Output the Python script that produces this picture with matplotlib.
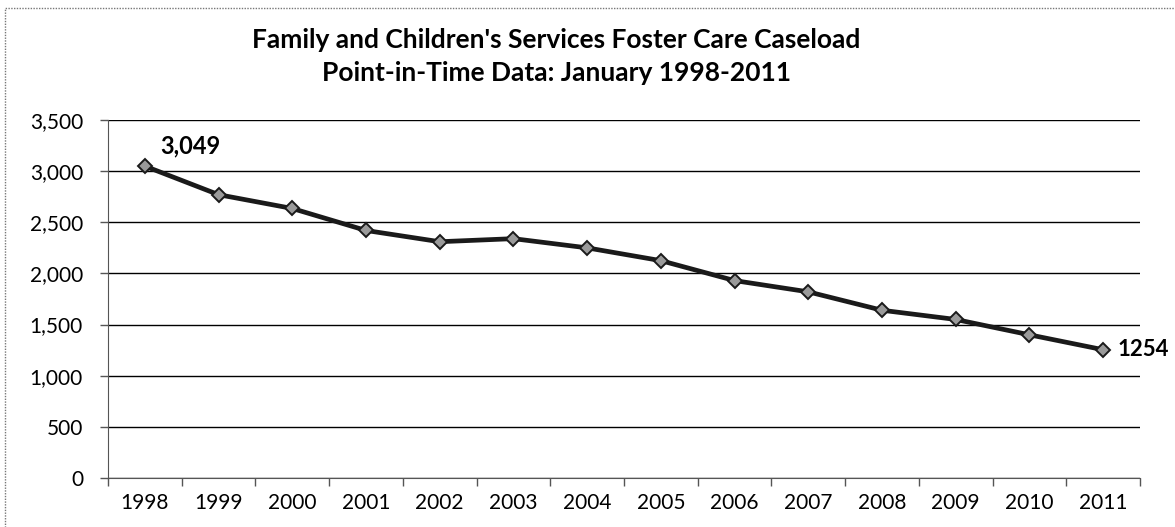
import matplotlib
matplotlib.use("Agg")
import matplotlib.pyplot as plt
from matplotlib.patches import Rectangle
from matplotlib.ticker import FuncFormatter, FixedLocator

years = ["1998", "1999", "2000", "2001", "2002", "2003", "2004",
         "2005", "2006", "2007", "2008", "2009", "2010", "2011"]
caseload = [3049, 2770, 2635, 2420, 2310, 2340, 2250,
            2125, 1930, 1820, 1640, 1550, 1400, 1254]
y_ticks = [0, 500, 1000, 1500, 2000, 2500, 3000, 3500]
title_lines = ["Family and Children's Services Foster Care Caseload",
               "Point-in-Time Data: January 1998-2011"]
first_label = "3,049"
last_label = "1254"

plt.rcParams['font.family'] = ['Lato', 'DejaVu Sans']

fig = plt.figure(figsize=(11.75, 5.27), dpi=100)
ax = fig.add_axes([108/1175, 1 - 478/527, (1140-108)/1175, (478-120)/527])

x = list(range(len(years)))
ax.plot(x, caseload, color='#1a1a1a', lw=3.4, zorder=3,
        marker='D', markersize=7, markerfacecolor='#9a9a9a',
        markeredgecolor='#1a1a1a', markeredgewidth=1.4)

ax.set_xlim(-0.5, len(years) - 0.5)
ax.set_ylim(0, 3500)
ax.set_yticks(y_ticks)
ax.yaxis.set_major_formatter(FuncFormatter(lambda v, p: f"{int(v):,}"))
ax.grid(axis='y', color='black', lw=1.0)
ax.set_axisbelow(True)

ax.set_xticks(x)
ax.set_xticklabels(years)
ax.xaxis.set_minor_locator(FixedLocator([i - 0.5 for i in range(len(years) + 1)]))
ax.tick_params(axis='x', which='major', length=0, pad=11, labelsize=15)
ax.tick_params(axis='x', which='minor', length=6, width=1, color='#555555', direction='out')
ax.tick_params(axis='y', length=6, width=1, color='#555555', labelsize=15, pad=12)

for s in ['top', 'right']:
    ax.spines[s].set_visible(False)
ax.spines['left'].set_color('#555555')
ax.spines['bottom'].set_color('#555555')

ax.annotate(first_label, (x[0], caseload[0]), xytext=(11, 6), textcoords='offset points',
            fontsize=17, fontweight='bold', ha='left', va='bottom')
ax.annotate(last_label, (x[-1], caseload[-1]), xytext=(10, 0), textcoords='offset points',
            fontsize=16, fontweight='bold', ha='left', va='center', annotation_clip=False)

fig.text(556/1175, 1 - 40/527, title_lines[0], ha='center', va='center',
         fontsize=19, fontweight='bold')
fig.text(556/1175, 1 - 73/527, title_lines[1], ha='center', va='center',
         fontsize=19, fontweight='bold')

fig.patches.append(Rectangle((5/1175, -0.01), 1.2, 1 - 8/527 + 0.01, transform=fig.transFigure,
                             fill=False, edgecolor='#777777', lw=1.0, linestyle=(0, (1, 1))))

fig.savefig('out.png', dpi=100)
